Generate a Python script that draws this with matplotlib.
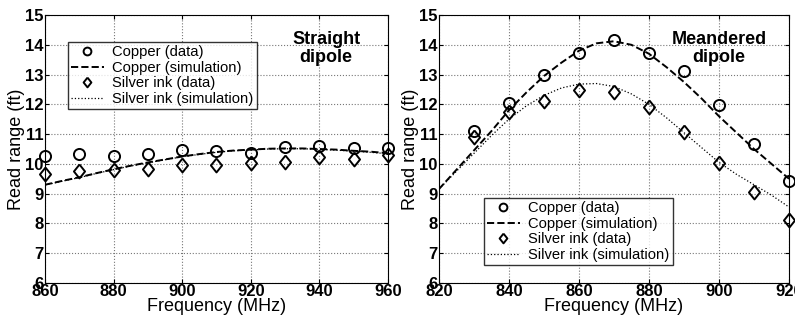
import numpy as np
import matplotlib.pyplot as plt

plt.rcParams["font.family"] = ["Liberation Sans", "DejaVu Sans"]

# Straight dipole
freq_s = [860, 870, 880, 890, 900, 910, 920, 930, 940, 950, 960]
copper_s = [10.28, 10.34, 10.28, 10.34, 10.47, 10.42, 10.38, 10.58, 10.60, 10.55, 10.55]
silver_s = [9.67, 9.75, 9.78, 9.83, 9.97, 9.97, 10.03, 10.05, 10.23, 10.16, 10.31]
sim_freq_s = [860, 865, 870, 875, 880, 885, 890, 895, 900, 905, 910,
              915, 920, 925, 930, 935, 940, 945, 950, 955, 960]
copper_sim_s = [9.30, 9.43, 9.55, 9.69, 9.82, 9.94, 10.05, 10.15, 10.25, 10.33, 10.40,
                10.45, 10.48, 10.51, 10.52, 10.52, 10.50, 10.48, 10.44, 10.41, 10.36]
silver_sim_s = [9.29, 9.42, 9.54, 9.68, 9.81, 9.93, 10.04, 10.14, 10.24, 10.32, 10.39,
                10.44, 10.47, 10.50, 10.51, 10.51, 10.49, 10.46, 10.43, 10.39, 10.34]

# Meandered dipole
freq_m = [830, 840, 850, 860, 870, 880, 890, 900, 910, 920]
copper_m = [11.12, 12.06, 12.99, 13.74, 14.17, 13.74, 13.13, 11.98, 10.66, 9.43]
silver_m = [10.92, 11.73, 12.12, 12.49, 12.43, 11.90, 11.07, 10.03, 9.05, 8.10]
sim_freq_m = [820, 825, 830, 835, 840, 845, 850, 855, 860, 865, 870,
              875, 880, 885, 890, 895, 900, 905, 910, 915, 920]
copper_sim_m = [9.15, 9.80, 10.45, 11.10, 11.80, 12.40, 12.95, 13.40, 13.80, 14.05, 14.12,
                14.00, 13.70, 13.25, 12.75, 12.20, 11.60, 11.05, 10.50, 10.00, 9.50]
silver_sim_m = [9.15, 9.75, 10.35, 10.95, 11.50, 11.95, 12.30, 12.55, 12.68, 12.70, 12.60,
                12.35, 12.00, 11.55, 11.05, 10.55, 10.05, 9.65, 9.30, 8.95, 8.55]

labels = ["Copper (data)", "Copper (simulation)", "Silver ink (data)", "Silver ink (simulation)"]

# wider-than-thin diamond, like the scanned figure
diamond = [(0, 1), (0.8, 0), (0, -1), (-0.8, 0), (0, 1)]

fig = plt.figure(figsize=(7.95, 3.16), dpi=100)
ax1 = fig.add_axes([0.0566, 0.1044, 0.4314, 0.848])
ax2 = fig.add_axes([0.552, 0.1044, 0.4405, 0.848])


def draw(ax, f, cu, ag, sf, cus, ags, xlim, xticks, title, title_x):
    h1, = ax.plot(f, cu, "o", mfc="none", mec="black", ms=8, mew=1.4, clip_on=False)
    h2, = ax.plot(sf, cus, "--", color="black", lw=1.4)
    h3, = ax.plot(f, ag, marker=diamond, ls="none", mfc="none", mec="black",
                  ms=10, mew=1.4, clip_on=False)
    h4, = ax.plot(sf, ags, ":", color="black", lw=0.9)
    ax.set_xlim(*xlim)
    ax.set_ylim(6, 15)
    ax.set_xticks(xticks)
    ax.set_yticks(range(6, 16))
    ax.grid(True, ls=":", color="#777777", lw=0.8)
    ax.tick_params(direction="in", labelsize=12, length=3, pad=1,
                   top=True, right=True)
    for lab in ax.get_xticklabels() + ax.get_yticklabels():
        lab.set_fontweight("bold")
    ax.set_xlabel("Frequency (MHz)", fontsize=13, labelpad=-1)
    ax.set_ylabel("Read range (ft)", fontsize=13, labelpad=0)
    ax.text(title_x, 0.94, title, transform=ax.transAxes, ha="center", va="top",
            fontsize=13, fontweight="bold", linespacing=1.05)
    leg = ax.legend([h1, h2, h3, h4], labels, fontsize=10.6, markerscale=0.7,
                    frameon=True, fancybox=False, edgecolor="black",
                    handlelength=2.2, borderpad=0.22, labelspacing=0.1,
                    handletextpad=0.6, borderaxespad=0)
    leg.get_frame().set_linewidth(1.0)
    return leg


leg1 = draw(ax1, freq_s, copper_s, silver_s, sim_freq_s, copper_sim_s, silver_sim_s,
            (860, 960), range(860, 961, 20), "Straight\ndipole", 0.82)
leg1.set_loc("upper left")
leg1.set_bbox_to_anchor((0.067, 0.899), transform=ax1.transAxes)

leg2 = draw(ax2, freq_m, copper_m, silver_m, sim_freq_m, copper_sim_m, silver_sim_m,
            (820, 920), range(820, 921, 20), "Meandered\ndipole", 0.80)
leg2.set_loc("lower left")
leg2.set_bbox_to_anchor((0.129, 0.067), transform=ax2.transAxes)

fig.savefig("out.png", dpi=100)
